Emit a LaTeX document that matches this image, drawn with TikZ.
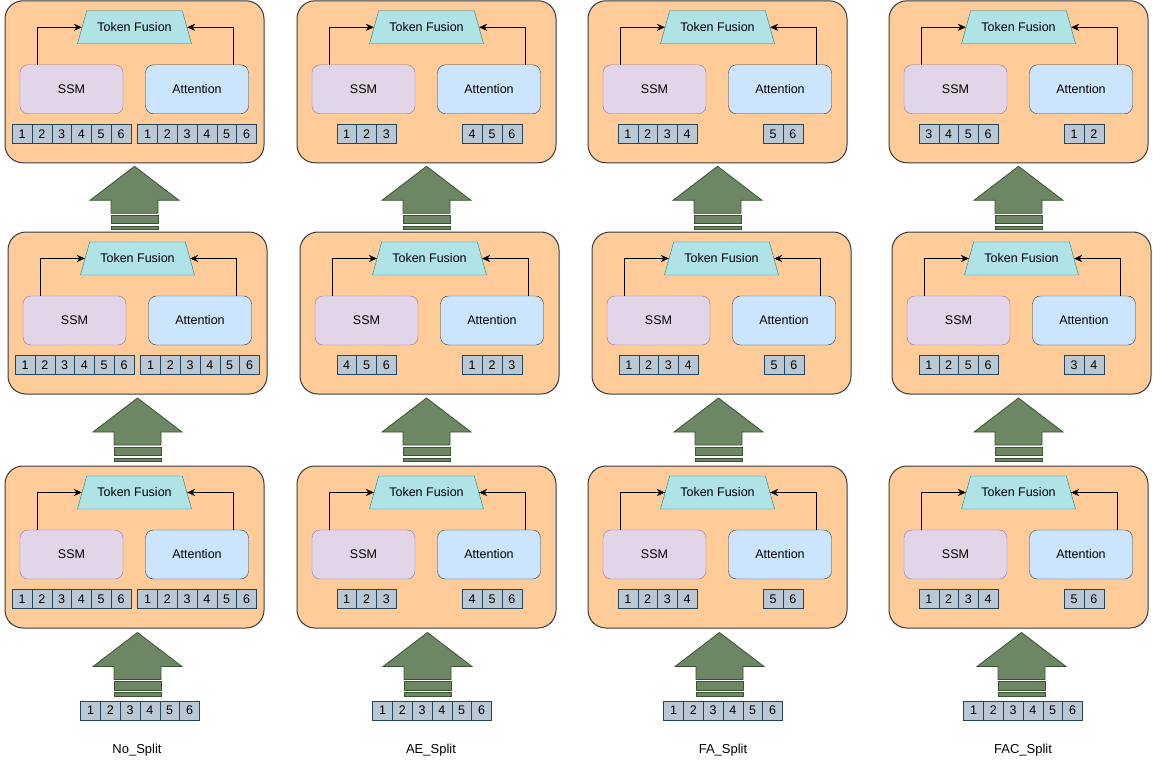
\documentclass[tikz,border=0pt]{standalone}
\usepackage{fontspec}
\setmainfont{Liberation Sans}
\usetikzlibrary{arrows.meta}
\usetikzlibrary{shapes.geometric}

\definecolor{blockfill}{HTML}{FFCC99}
\definecolor{blockline}{HTML}{36393D}
\definecolor{ssmfill}{HTML}{E1D5E7}
\definecolor{ssmline}{HTML}{9673A6}
\definecolor{attfill}{HTML}{CCE5FF}
\definecolor{fusefill}{HTML}{B0E3E6}
\definecolor{fuseline}{HTML}{0E8088}
\definecolor{tokfill}{HTML}{BAC8D3}
\definecolor{tokline}{HTML}{23445D}
\definecolor{arrfill}{HTML}{6D8764}
\definecolor{arrline}{HTML}{3A5431}

\newcommand\tokenrow[4]{% name, center x, top y, tokens
  \foreach \tk [count=\n] in {#4} {\xdef\ntok{\n}}
  \foreach \tk [count=\i] in {#4} {
    \node[tok] (#1\i) at ({#2+(\i-(\ntok+1)/2)*19.8}, {#3+9.5}) {\tk};
  }
}
\newcommand\fusionblock[6]{% name, left, top, row shift, ssm tokens, attention tokens
  \node[blockbox] (#1) at ({#2+129.5}, {#3+81}) {};
  \node[fusion] (#1f) at ({#2+129.5}, {#3+26.5}) {Token Fusion};
  \node[ssmbox] (#1s) at ({#2+66.5}, {#3+88.5}) {SSM};
  \node[attbox] (#1a) at ({#2+192}, {#3+88.5}) {Attention};
  \tokenrow{#1s}{#2+66.5+#4}{#3+123.5}{#5}
  \tokenrow{#1a}{#2+192+#4}{#3+123.5}{#6}
  \draw[flow] ([xshift=17pt]#1s.north west) |- (#1f.west);
  \draw[flow] ([xshift=-16pt]#1a.north east) |- (#1f.east);
}
\newcommand\bigarrow[1]{% tip
  \path[bigarr] #1 -- ++(44.5,34) -- ++(-21,0) -- ++(0,13) -- ++(-47,0) -- ++(0,-13) -- ++(-21,0) -- cycle;
  \path[bigarr] #1 ++(-23.5,49) rectangle ++(47,8.5);
  \path[bigarr] #1 ++(-23.5,60) rectangle ++(47,3.5);
}

\begin{document}
\begin{tikzpicture}[x=1pt, y=-1pt, font=\fontsize{12.5}{14}\selectfont]
  \tikzset{blockbox/.style={draw=blockline, fill=blockfill, line width=1pt, rounded corners=18pt, minimum width=259pt, minimum height=162pt}}
  \tikzset{fusion/.style={trapezium, trapezium left angle=60, trapezium right angle=60, trapezium stretches body, minimum width=114pt, minimum height=33pt, inner xsep=0pt, draw=fuseline, fill=fusefill}}
  \tikzset{ssmbox/.style={draw=ssmline, fill=ssmfill, rounded corners=8pt, minimum width=103pt, minimum height=49pt}}
  \tikzset{attbox/.style={draw=blockline, fill=attfill, rounded corners=8pt, minimum width=103pt, minimum height=49pt}}
  \tikzset{tok/.style={draw=tokline, fill=tokfill, minimum width=19.8pt, minimum height=19pt, inner sep=0pt}}
  \tikzset{flow/.style={draw, -{Stealth[length=8pt, width=7pt]}}}
  \tikzset{bigarr/.style={fill=arrfill, draw=arrline, line width=0.8pt}}
  \tikzset{lbl/.style={font=\fontsize{13}{15}\selectfont}}

  \useasboundingbox (0,0) rectangle (1153,765);

  % No_Split
  \fusionblock{c1top}{5}{0.8}{0}{1,2,3,4,5,6}{1,2,3,4,5,6}
  \fusionblock{c1mid}{8}{232}{0}{1,2,3,4,5,6}{1,2,3,4,5,6}
  \fusionblock{c1bot}{5}{466}{0}{1,2,3,4,5,6}{1,2,3,4,5,6}
  % AE_Split
  \fusionblock{c2top}{297}{0.8}{3}{1,2,3}{4,5,6}
  \fusionblock{c2mid}{300}{232}{0}{4,5,6}{1,2,3}
  \fusionblock{c2bot}{297}{466}{3}{1,2,3}{4,5,6}
  % FA_Split
  \fusionblock{c3top}{588}{0.8}{3}{1,2,3,4}{5,6}
  \fusionblock{c3mid}{592}{232}{0}{1,2,3,4}{5,6}
  \fusionblock{c3bot}{588}{466}{3}{1,2,3,4}{5,6}
  % FAC_Split
  \fusionblock{c4top}{889}{0.8}{3}{3,4,5,6}{1,2}
  \fusionblock{c4mid}{892}{232}{0}{1,2,5,6}{3,4}
  \fusionblock{c4bot}{889}{466}{3}{1,2,3,4}{5,6}

  \bigarrow{([yshift=-3pt]c1top.south)}
  \bigarrow{([yshift=-3.5pt]c1mid.south)}
  \bigarrow{([xshift=3pt, yshift=-4pt]c1bot.south)}
  \bigarrow{([yshift=-3pt]c2top.south)}
  \bigarrow{([xshift=-3pt, yshift=-3.5pt]c2mid.south)}
  \bigarrow{([xshift=1pt, yshift=-4pt]c2bot.south)}
  \bigarrow{([yshift=-3pt]c3top.south)}
  \bigarrow{([xshift=-3pt, yshift=-3.5pt]c3mid.south)}
  \bigarrow{([xshift=2pt, yshift=-4pt]c3bot.south)}
  \bigarrow{([yshift=-3pt]c4top.south)}
  \bigarrow{([xshift=-3pt, yshift=-3.5pt]c4mid.south)}
  \bigarrow{([xshift=3pt, yshift=-4pt]c4bot.south)}

  \tokenrow{c1in}{140}{701}{1,2,3,4,5,6}
  \tokenrow{c2in}{432}{701}{1,2,3,4,5,6}
  \tokenrow{c3in}{723}{701}{1,2,3,4,5,6}
  \tokenrow{c4in}{1023}{701}{1,2,3,4,5,6}

  \node[lbl] (c1lab) at (137,750) {No\_Split};
  \node[lbl] (c2lab) at (431,750) {AE\_Split};
  \node[lbl] (c3lab) at (723,750) {FA\_Split};
  \node[lbl] (c4lab) at (1023,750) {FAC\_Split};
\end{tikzpicture}
\end{document}
